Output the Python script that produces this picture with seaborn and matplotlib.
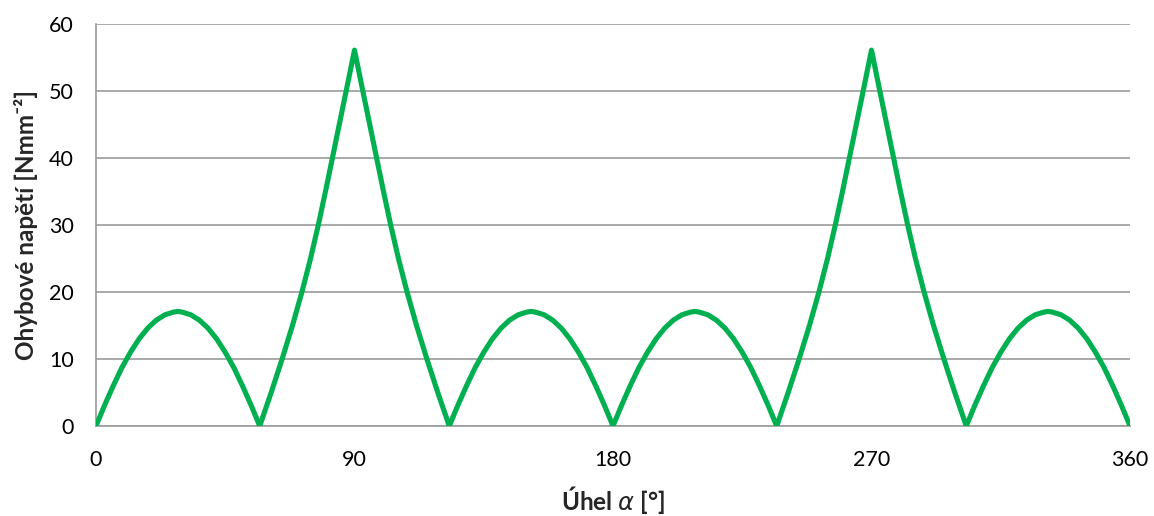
import matplotlib
matplotlib.use("Agg")
import matplotlib.pyplot as plt
import seaborn as sns
import pandas as pd

# Angle [deg]
uhel = [
    0, 3, 6, 9, 12, 15, 18, 21, 24, 27, 28.5, 30, 33, 36, 39, 42, 45, 48, 51, 54, 57,
    61, 64.8, 68.4, 71.7, 74.7, 77.4, 79.9, 82.3, 84.7, 87.1, 90,
    92.9, 95.3, 97.7, 100.1, 102.6, 105.3, 108.3, 111.6, 115.2, 119, 123,
    126, 129, 132, 135, 138, 141, 144, 147, 150, 151.5, 153, 156, 159, 162, 165, 168, 171, 174, 177, 180,
    183, 186, 189, 192, 195, 198, 201, 204, 207, 208.5, 210, 213, 216, 219, 222, 225, 228, 231, 234, 237,
    241, 244.8, 248.4, 251.7, 254.7, 257.4, 259.9, 262.3, 264.7, 267.1, 270,
    272.9, 275.3, 277.7, 280.1, 282.6, 285.3, 288.3, 291.6, 295.2, 299, 303,
    306, 309, 312, 315, 318, 321, 324, 327, 330, 331.5, 333, 336, 339, 342, 345, 348, 351, 354, 357, 360,
]

# Bending stress [N/mm^2]
napeti = [
    0, 3.1, 6.0, 8.7, 11.0, 13.0, 14.6, 15.8, 16.6, 17.0, 17.1, 17.0, 16.6, 15.8, 14.6, 13.0, 11.0, 8.7, 6.0, 3.1, 0,
    5, 10, 15, 20, 25, 30, 35, 40, 45, 50, 56.1,
    50, 45, 40, 35, 30, 25, 20, 15, 10, 5, 0,
    3.1, 6.0, 8.7, 11.0, 13.0, 14.6, 15.8, 16.6, 17.0, 17.1, 17.0, 16.6, 15.8, 14.6, 13.0, 11.0, 8.7, 6.0, 3.1, 0,
    3.1, 6.0, 8.7, 11.0, 13.0, 14.6, 15.8, 16.6, 17.0, 17.1, 17.0, 16.6, 15.8, 14.6, 13.0, 11.0, 8.7, 6.0, 3.1, 0,
    5, 10, 15, 20, 25, 30, 35, 40, 45, 50, 56.1,
    50, 45, 40, 35, 30, 25, 20, 15, 10, 5, 0,
    3.1, 6.0, 8.7, 11.0, 13.0, 14.6, 15.8, 16.6, 17.0, 17.1, 17.0, 16.6, 15.8, 14.6, 13.0, 11.0, 8.7, 6.0, 3.1, 0,
]

x_ticks = [0, 90, 180, 270, 360]
y_ticks = [0, 10, 20, 30, 40, 50, 60]

df = pd.DataFrame({"uhel": uhel, "napeti": napeti})

sns.set_theme(style="white")
plt.rcParams["font.family"] = ["Lato", "DejaVu Sans"]

fig = plt.figure(figsize=(11.54, 5.16), dpi=100)
ax = fig.add_axes([96 / 1154, 1 - 426 / 516, (1130 - 96) / 1154, (426 - 24) / 516])

sns.lineplot(data=df, x="uhel", y="napeti", ax=ax, color="#00B050",
             linewidth=3.7, solid_capstyle="round", solid_joinstyle="round",
             sort=False, zorder=3)

ax.set_xlim(0, 360)
ax.set_ylim(0, 60)
ax.set_xticks(x_ticks)
ax.set_yticks(y_ticks)
ax.set_xticklabels([str(v) for v in x_ticks])
ax.set_yticklabels([str(v) for v in y_ticks])

grid_c = "#9B9B9B"
ax.yaxis.grid(True, color=grid_c, linewidth=1.2)
ax.xaxis.grid(False)
for side in ["top", "right"]:
    ax.spines[side].set_visible(False)
for side in ["left", "bottom"]:
    ax.spines[side].set_color(grid_c)
    ax.spines[side].set_linewidth(1.2)
ax.set_axisbelow(True)

ax.tick_params(axis="both", which="major", direction="out", length=6,
               width=1.2, color=grid_c, labelsize=15.5, labelcolor="black")
ax.tick_params(axis="y", pad=10)
ax.tick_params(axis="x", pad=11)

ax.set_xlabel("Úhel $\\alpha$ [°]", fontsize=17.5, fontweight="bold", labelpad=10)
ax.set_ylabel("Ohybové napětí [Nmm⁻²]", fontsize=17.5, fontweight="bold", labelpad=8)

fig.savefig("out.png", dpi=100, facecolor="white")
